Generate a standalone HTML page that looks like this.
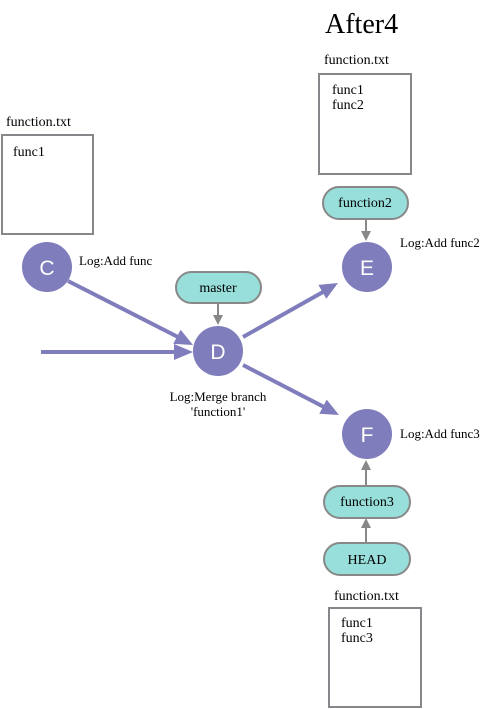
<!DOCTYPE html>
<html><head><meta charset="utf-8"><style>
html,body{margin:0;padding:0;background:#fff;width:491px;height:709px;overflow:hidden}
svg{display:block}
text{font-family:"Liberation Serif",serif;fill:#000}
.c{fill:#7f7dbb}
.ct{font-family:"Liberation Sans",sans-serif;fill:#fff;font-size:21px;text-anchor:middle}
.p{fill:#98deda;stroke:#888;stroke-width:2}
.box{fill:#fff;stroke:#85878b;stroke-width:2}
.s{font-size:13px}
.b{font-size:14px}
.m{font-size:14px}
</style></head><body>
<svg width="491" height="709" viewBox="0 0 491 709">
<text x="325" y="33" font-size="28">After4</text>
<text x="324" y="64" class="m">function.txt</text>
<rect class="box" x="319" y="74" width="92" height="100"/>
<text x="332" y="94" class="b">func1</text>
<text x="332" y="109" class="b">func2</text>

<text x="6" y="126" class="m">function.txt</text>
<rect class="box" x="2" y="135" width="91" height="99"/>
<text x="13" y="156" class="b">func1</text>

<text x="334" y="600" class="m">function.txt</text>
<rect class="box" x="329" y="608" width="92" height="99"/>
<text x="341" y="627" class="b">func1</text>
<text x="341" y="642" class="b">func3</text>

<g stroke="#7f7dbb" stroke-width="4" fill="none">
<line x1="41" y1="352" x2="176" y2="352"/>
<line x1="68" y1="281" x2="178" y2="337"/>
<line x1="243" y1="337" x2="323" y2="292"/>
<line x1="243" y1="365" x2="324" y2="407"/>
</g>
<g fill="#7f7dbb">
<polygon points="174,344 193,352 174,360"/>
<polygon points="180.6,329.7 193,345 173.3,343.9"/>
<polygon points="326.3,298.8 338,283 318.4,284.9"/>
<polygon points="319.3,413.8 339,415 326.7,399.6"/>
</g>
<g stroke="#888" stroke-width="2">
<line x1="218" y1="303" x2="218" y2="316"/>
<line x1="366" y1="219" x2="366" y2="232"/>
<line x1="366" y1="486" x2="366" y2="469"/>
<line x1="366" y1="543" x2="366" y2="527"/>
</g>
<g fill="#888">
<polygon points="213,315 218,325 223,315"/>
<polygon points="361,231 366,241 371,231"/>
<polygon points="361,470 366,460 371,470"/>
<polygon points="361,528 366,518 371,528"/>
</g>

<circle class="c" cx="47" cy="267" r="25"/><text class="ct" x="47" y="275">C</text>
<circle class="c" cx="218" cy="351" r="25"/><text class="ct" x="218" y="359">D</text>
<circle class="c" cx="367" cy="267" r="25"/><text class="ct" x="367" y="275">E</text>
<circle class="c" cx="367" cy="434" r="25"/><text class="ct" x="367" y="442">F</text>

<text x="79" y="265" class="s">Log:Add func</text>
<text x="400" y="247" class="s">Log:Add func2</text>
<text x="400" y="438" class="s">Log:Add func3</text>
<text x="218" y="401" class="s" text-anchor="middle">Log:Merge branch</text>
<text x="218" y="416" class="s" text-anchor="middle">'function1'</text>

<rect class="p" x="176" y="272" width="85" height="31" rx="15.5"/>
<text x="218" y="292" class="m" text-anchor="middle">master</text>
<rect class="p" x="323" y="187" width="85" height="32" rx="16"/>
<text x="365" y="207" class="m" text-anchor="middle">function2</text>
<rect class="p" x="324" y="486" width="86" height="32" rx="16"/>
<text x="367" y="506" class="m" text-anchor="middle">function3</text>
<rect class="p" x="324" y="543" width="86" height="32" rx="16"/>
<text x="367" y="564" class="m" text-anchor="middle">HEAD</text>
</svg>
</body></html>
